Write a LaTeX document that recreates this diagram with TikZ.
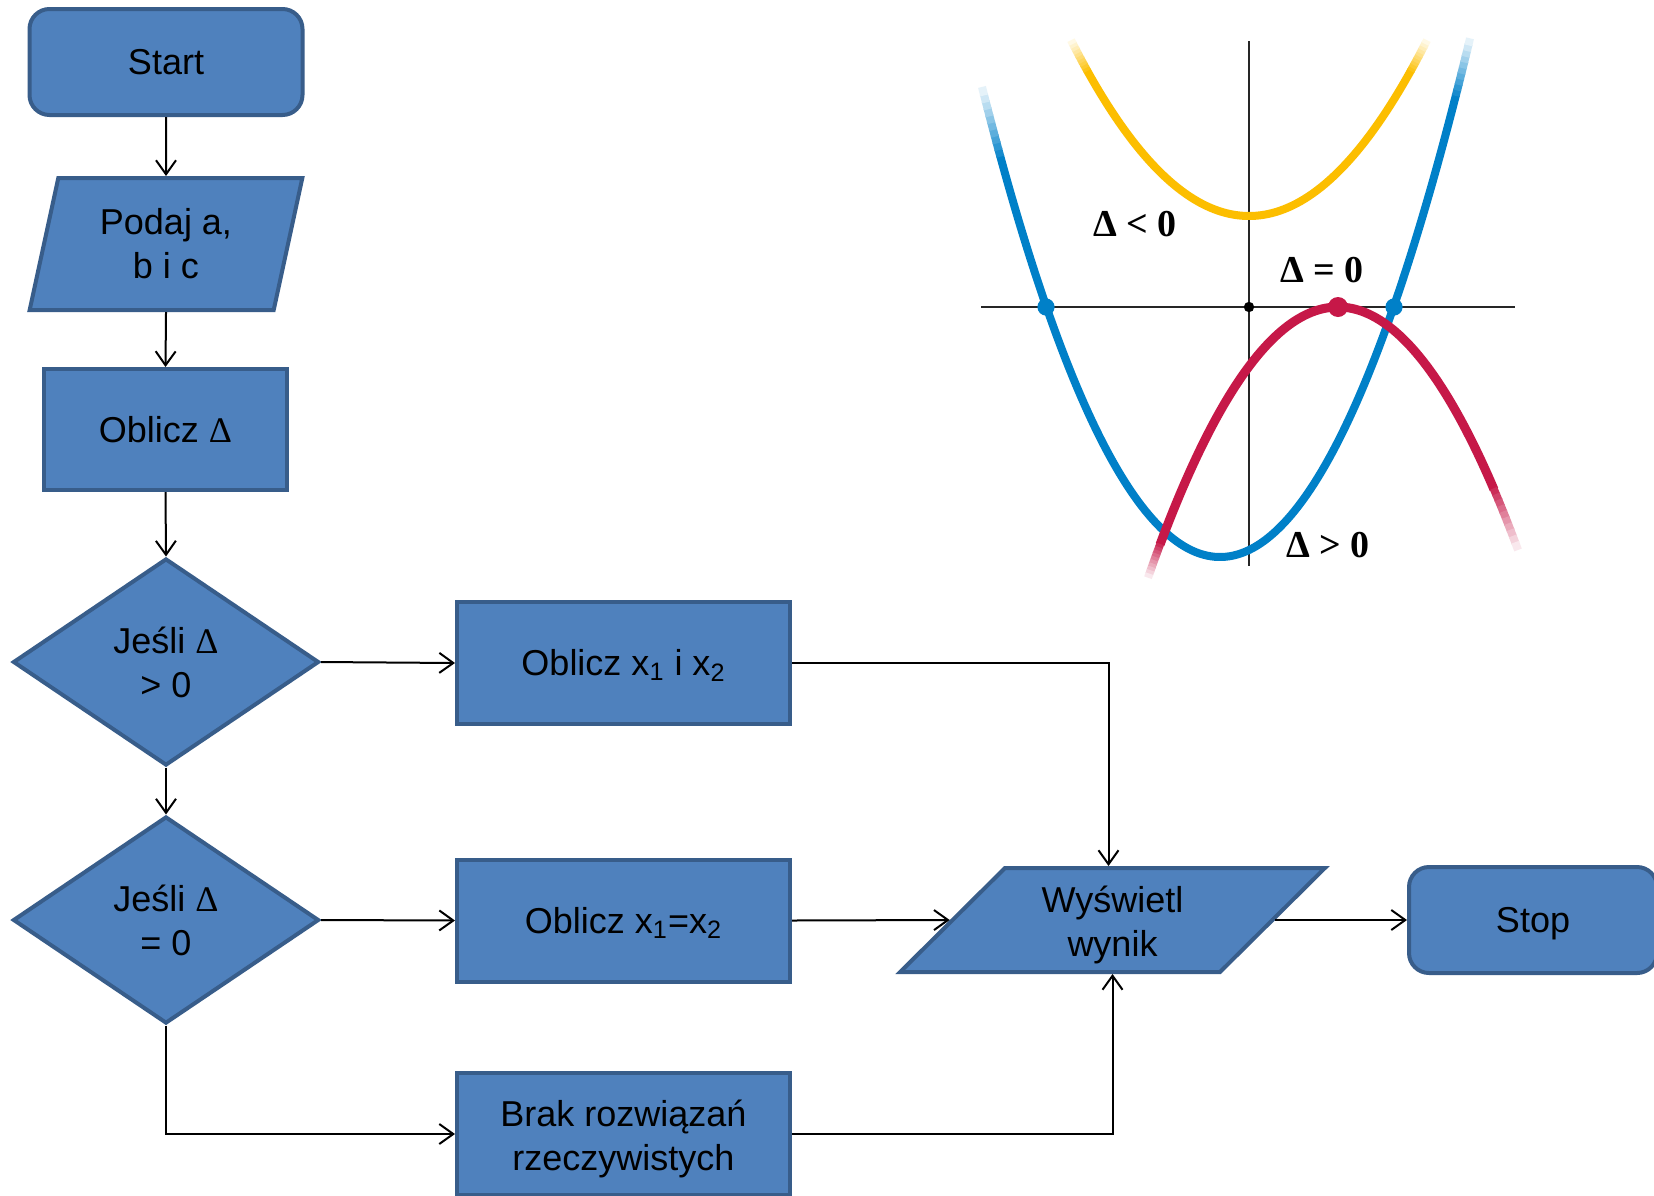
\documentclass[tikz,border=0pt]{standalone}
\usepackage{fontspec}
\setmainfont{Liberation Sans}
\newfontfamily\serifd{Liberation Serif}
\usetikzlibrary{shapes.geometric,arrows.meta}
\definecolor{boxfill}{RGB}{79,129,189}
\definecolor{boxline}{RGB}{56,93,138}
\definecolor{cblue}{RGB}{0,128,200}
\definecolor{cyell}{RGB}{252,190,0}
\definecolor{cred}{RGB}{198,24,72}
\newcommand{\Dl}{{\serifd Δ}}
\newcommand{\fadeend}[5]{%
  \foreach \i in {1,...,10}{%
    \pgfmathsetmacro\ua{#2+(\i-1.2)*#3}%
    \pgfmathsetmacro\ub{#2+\i*#3}%
    \pgfmathtruncatemacro\pc{100-9*\i}%
    \draw[#1!\pc!white, line width=4pt] plot[domain=\ua:\ub, samples=4] ({#4},{#5});
  }}
\begin{document}
\begin{tikzpicture}[x=0.5pt,y=-0.5pt,
  base/.style={fill=boxfill,draw=boxline,line width=2pt,inner sep=0pt,align=center,
    font=\fontsize{18}{22}\selectfont},
  one/.style={text height=16.3pt,text depth=3.8pt},
  term/.style={base,one,rectangle,rounded corners=10pt,minimum width=#1,minimum height=53pt},
  proc/.style={base,rectangle,minimum width=#1,minimum height=61pt},
  io/.style={base,trapezium,trapezium stretches=true},
  decis/.style={base,diamond,aspect=1.5,minimum width=153pt,minimum height=103.5pt},
  conn/.style={-{Straight Barb[length=7pt,width=10pt]},line width=1pt,black},
  dlab/.style={font=\serifd\bfseries\fontsize{19}{21}\selectfont,inner sep=0pt}
]
\useasboundingbox (0,0) rectangle (1654,1195);
\clip (0,0) rectangle (1654,1195);
\fill[white] (0,0) rectangle (1654,1195);

% ---- graph ----
\begin{scope}[line cap=butt]
\draw[line width=1pt,black!85] (981,307) -- (1515,307);
\draw[line width=1pt,black!85] (1249,41) -- (1249,566);
% yellow
\draw[cyell,line width=4pt] plot[domain=-162:162,samples=80] ({1249+\x},{216-(0.0745*\x)^2});
\fadeend{cyell}{-162}{-1.6}{1249+\x}{216-(0.0745*\x)^2}
\fadeend{cyell}{162}{1.6}{1249+\x}{216-(0.0745*\x)^2}
% blue
\draw[cblue,line width=4pt] plot[domain=-220:236,samples=120] ({1220+\x},{557-(0.0911*\x)^2});
\fadeend{cblue}{-220}{-1.8}{1220+\x}{557-(0.0911*\x)^2}
\fadeend{cblue}{236}{1.4}{1220+\x}{557-(0.0911*\x)^2}
% red
\draw[cred,line width=4.5pt] plot[domain=-178:156,samples=100] ({1338+\x},{307+(0.0866*\x)^2});
\fadeend{cred}{-178}{-1.2}{1338+\x}{307+(0.0866*\x)^2}
\fadeend{cred}{156}{2.4}{1338+\x}{307+(0.0866*\x)^2}
\end{scope}
\fill[black] (1249,307) circle[radius=2.6pt];
\fill[cblue] (1046,307) circle[radius=4.3pt];
\fill[cblue] (1394,307) circle[radius=4.3pt];
\fill[cred] (1338,307) circle[radius=5pt];
\node[dlab] (l1) at (1135,224) {Δ < 0};
\node[dlab] (l2) at (1322,270) {Δ = 0};
\node[dlab] (l3) at (1328,545) {Δ > 0};

% ---- flowchart ----
\node[term=136.5pt] (start) at (166,62) {Start};
\node[io,minimum width=137pt,minimum height=66pt,trapezium left angle=76,trapezium right angle=104] (podaj) at (166,244) {Podaj a,\\b i c};
\node[proc=121.5pt,one,minimum height=60.5pt] (obl) at (165.5,429.5) {Oblicz \Dl};
\node[decis] (d1) at (166,662) {Jeśli \Dl\\> 0};
\node[decis] (d2) at (166,920) {Jeśli \Dl\\= 0};
\node[proc=166.5pt,one] (ox) at (623.5,663) {Oblicz x\textsubscript{1} i x\textsubscript{2}};
\node[proc=166.5pt,one] (oeq) at (623.5,920.5) {Oblicz x\textsubscript{1}=x\textsubscript{2}};
\node[proc=166.5pt] (brak) at (623.5,1134) {\rule{0pt}{18.5pt}Brak rozwiązań\\rzeczywistych};
\node[io,minimum width=212.5pt,minimum height=52pt,trapezium left angle=52,trapezium right angle=128] (wys) at (1112.5,920) {\rule{0pt}{18.5pt}Wyświetl\\wynik};
\node[term=124pt] (stop) at (1533,920) {Stop};

\draw[conn] (start.south) -- (podaj.north);
\draw[conn] (podaj.south) -- (obl.north);
\draw[conn] (obl.south) -- (d1.north);
\draw[conn] (d1.east) -- (ox.west);
\draw[conn] (d1.south) -- (d2.north);
\draw[conn] (d2.east) -- (oeq.west);
\draw[conn] (d2.south) |- (brak.west);
\draw[conn] (ox.east) -| ([xshift=-2pt]wys.north);
\draw[conn] (oeq.east) -- (wys.left side);
\draw[conn] (brak.east) -| (wys.south);
\draw[conn] (wys.right side) -- (stop.west);
\end{tikzpicture}
\end{document}
